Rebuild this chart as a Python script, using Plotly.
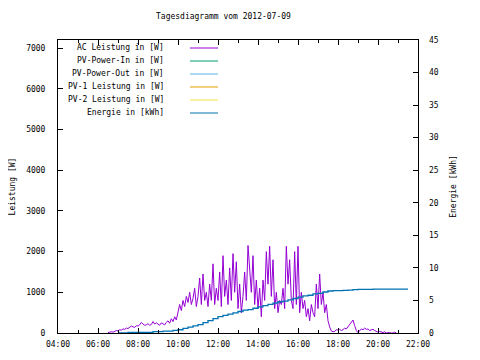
import plotly.graph_objects as go
import pandas as pd

DAY = "2012-07-09"
TITLE = "Tagesdiagramm vom 2012-07-09"

# AC Leistung [W], 5-minute samples starting 06:30
ac_start = "06:30"
ac_power = [
    10, 20, 30, 20, 40, 60, 50, 80, 70, 100, 90, 120, 110, 130, 170, 150, 140, 180,
    170, 200, 260, 220, 190, 200, 230, 190, 210, 280, 220, 250, 230, 190, 250, 220,
    200, 260, 300, 240, 350, 280, 400, 320,
    500, 700, 550, 800, 650, 900, 750, 1000, 700, 850, 1100, 650,
    900, 1350, 700, 1450, 800, 1000, 650, 1200, 800, 1700, 700, 1100,
    800, 1500, 650, 1900, 900, 1300, 700, 1600, 800, 1950, 1000, 1750,
    600, 1200, 500, 900, 1500, 800, 2150, 1600, 1000, 1900, 700, 1300,
    600, 1100, 400, 1300, 800, 2000, 1200, 2130, 900, 1800, 600, 1000,
    500, 800, 700, 1100, 600, 2130, 1200, 1800, 800, 600, 2000, 700,
    2130, 500, 1000, 600, 800, 400, 600, 300, 700, 500, 400, 1200,
    600, 1450, 700, 1000, 500, 700, 300,
    150, 50, 30, 40, 80, 70, 90, 60, 80, 120, 100, 150, 200, 250, 320, 180, 60,
    10, 60, 100, 80, 120, 90, 100, 60, 70, 90, 60, 30, 20, 40, 20, 10, 30, 0,
    10, 0, 0, 0, 20, 0,
]

# Energie [kWh], 15-minute samples starting 07:00
en_start = "07:00"
energy = [
    0.0, 0.0, 0.1, 0.1, 0.1, 0.1, 0.1, 0.2, 0.2, 0.3, 0.3, 0.4,
    0.5, 0.7, 0.9, 1.1, 1.3, 1.6, 1.9, 2.2,
    2.5, 2.7, 2.9, 3.1, 3.3, 3.5, 3.6, 3.8,
    4.0, 4.2, 4.4, 4.6, 4.8, 4.9, 5.1, 5.3,
    5.5, 5.7, 5.8, 6.0, 6.1, 6.3, 6.45, 6.5,
    6.5, 6.55, 6.6, 6.65, 6.7, 6.7, 6.7, 6.75,
    6.75, 6.75, 6.75, 6.75, 6.75, 6.75, 6.75,
]

legend_labels = ["AC Leistung in [W]", "PV-Power-In in [W]", "PV-Power-Out in [W]",
                 "PV-1 Leistung in [W]", "PV-2 Leistung in [W]", "Energie in [kWh]"]
legend_colors = ["#9400D3", "#009E73", "#56B4E9", "#E69F00", "#F0E442", "#0072B2"]

ac_times = pd.date_range(f"{DAY} {ac_start}", periods=len(ac_power), freq="5min")
en_times = pd.date_range(f"{DAY} {en_start}", periods=len(energy), freq="15min")

FONT = "DejaVu Sans Mono"

fig = go.Figure()
fig.add_trace(go.Scatter(x=ac_times, y=ac_power, mode="lines",
                         line=dict(color=legend_colors[0], width=1), showlegend=False))
fig.add_trace(go.Scatter(x=en_times, y=energy, mode="lines", yaxis="y2",
                         line=dict(color=legend_colors[5], width=1.3, shape="hv"),
                         showlegend=False))

# page body has an 8px margin; figure is sized so the plot lands where intended
OFF = 8
W, H = 480 - OFF, 360 - OFF
L, R, T, B = 58 - OFF, 62, 40 - OFF, 27
pw, ph = W - L - R, H - T - B

def px(x):
    return (x - OFF - L) / pw

def py(y):
    return (H - B - (y - OFF)) / ph

annotations = [dict(text=TITLE, x=px(223), y=py(17), xref="paper", yref="paper",
                    showarrow=False, xanchor="center", yanchor="middle",
                    font=dict(size=8, color="black", family=FONT))]
shapes = []
for i, (lab, col) in enumerate(zip(legend_labels, legend_colors)):
    yy = 47 + i * 13
    annotations.append(dict(text=lab, x=px(166), y=py(yy), xref="paper", yref="paper",
                            showarrow=False, xanchor="right", yanchor="middle",
                            font=dict(size=8, color="black", family=FONT)))
    shapes.append(dict(type="line", xref="paper", yref="paper",
                       x0=px(190), x1=px(218), y0=py(yy + 1), y1=py(yy + 1),
                       line=dict(color=col, width=1)))

fig.update_layout(
    width=W, height=H,
    margin=dict(l=L, r=R, t=T, b=B, pad=0),
    paper_bgcolor="white", plot_bgcolor="white",
    font=dict(family=FONT, size=8, color="black"),
    showlegend=False,
    annotations=annotations,
    shapes=shapes,
    xaxis=dict(
        range=[f"{DAY} 04:00", f"{DAY} 22:00"],
        tickformat="%H:%M", dtick=7200000, tick0=f"{DAY} 04:00",
        ticks="inside", ticklen=5, tickcolor="black",
        minor=dict(dtick=3600000, ticks="inside", ticklen=3, tickcolor="black"),
        showline=True, linecolor="black", linewidth=1, mirror="ticks",
        showgrid=False, zeroline=False, automargin=False,
        ticklabelstandoff=3,
        tickfont=dict(size=8, family=FONT),
    ),
    yaxis=dict(
        range=[0, 7200], dtick=1000,
        ticks="inside", ticklen=5, tickcolor="black",
        showline=True, linecolor="black", linewidth=1, mirror=True,
        showgrid=False, zeroline=False, automargin=False,
        ticklabelstandoff=10,
        title=dict(text="Leistung [W]", font=dict(size=8, family=FONT), standoff=12),
        tickfont=dict(size=8, family=FONT),
    ),
    yaxis2=dict(
        range=[0, 45], dtick=5, overlaying="y", side="right",
        ticks="inside", ticklen=5, tickcolor="black",
        showline=False, showgrid=False, zeroline=False, automargin=False,
        ticklabelstandoff=10,
        title=dict(text="Energie [kWh]", font=dict(size=8, family=FONT), standoff=12),
        tickfont=dict(size=8, family=FONT),
    ),
)

fig.write_html("out.html")
